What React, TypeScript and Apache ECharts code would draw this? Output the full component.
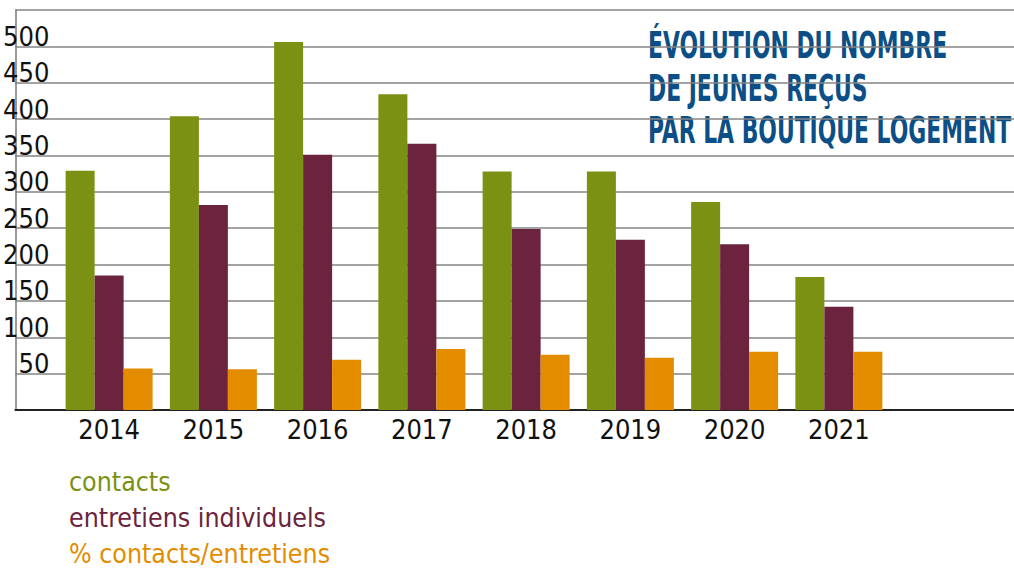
import React, { useEffect, useRef } from "react";
import * as echarts from "echarts";

const years = ["2014", "2015", "2016", "2017", "2018", "2019", "2020", "2021"];
const contacts = [329, 404, 506, 434, 328, 328, 286, 183];
const entretiens = [185, 282, 351, 366, 249, 234, 228, 142];
const pctContacts = [57, 56, 69, 84, 76, 72, 80, 80];
const seriesNames = ["contacts", "entretiens individuels", "% contacts/entretiens"];
const seriesColors = ["#7A9113", "#6B233E", "#E38C00"];
const titleLines = ["ÉVOLUTION DU NOMBRE", "DE JEUNES REÇUS", "PAR LA BOUTIQUE LOGEMENT"];
const yMax = 550;
const yStep = 50;

const FONT = "'DejaVu Sans Condensed', 'DejaVu Sans', sans-serif";

export default function App() {
  const ref = useRef<HTMLDivElement>(null);
  useEffect(() => {
    document.body.style.margin = "0";
    const chart = echarts.init(ref.current!, null, { renderer: "svg" });
    const values = [contacts, entretiens, pctContacts];
    const option: any = {
      animation: false,
      backgroundColor: "#ffffff",
      grid: [
        { left: 10, right: 0, top: 10, bottom: 159 },
        { left: 57, width: 834, top: 10, bottom: 159 },
      ],
      xAxis: [
        {
          gridIndex: 0,
          type: "value",
          min: 0,
          max: 1,
          axisLine: { show: true, lineStyle: { color: "#222", width: 2 } },
          axisTick: { show: false },
          axisLabel: { show: false },
          splitLine: { show: false },
        },
        {
          gridIndex: 1,
          type: "category",
          data: years,
          axisLine: { show: false },
          axisTick: { show: false },
          axisLabel: { fontSize: 27, fontFamily: FONT, color: "#111", margin: 6 },
        },
      ],
      yAxis: [
        {
          gridIndex: 0,
          type: "value",
          min: 0,
          max: yMax,
          interval: yStep,
          axisLine: { show: true, lineStyle: { color: "#777", width: 1.5 } },
          axisTick: { show: false },
          splitLine: { lineStyle: { color: "#858585", width: 1.5 } },
          axisLabel: {
            inside: true,
            align: "right",
            margin: 34,
            verticalAlign: "bottom",
            lineHeight: 20,
            showMinLabel: false,
            showMaxLabel: false,
            fontSize: 27,
            fontFamily: FONT,
            color: "#111",
          },
        },
        { gridIndex: 1, type: "value", min: 0, max: yMax, interval: yStep, show: false },
      ],
      legend: {
        orient: "vertical",
        left: 64,
        top: 466,
        padding: 0,
        itemWidth: 0,
        itemHeight: 0,
        itemGap: 6,
        icon: "none",
        selectedMode: false,
        textStyle: { fontSize: 26.5, fontFamily: FONT, lineHeight: 30 },
        data: seriesNames.map((n, i) => ({ name: n, textStyle: { color: seriesColors[i] } })),
      },
      graphic: titleLines.map((t, i) => ({
        type: "text",
        x: 648,
        y: 45 + i * 42.5,
        scaleX: 0.64,
        style: {
          text: t,
          fill: "#0B4F86",
          font: `bold 38px ${FONT}`,
          align: "left",
          verticalAlign: "middle",
        },
      })),
      series: seriesNames.map((n, i) => ({
        name: n,
        type: "bar",
        xAxisIndex: 1,
        yAxisIndex: 1,
        barWidth: 29,
        barGap: "0%",
        itemStyle: { color: seriesColors[i] },
        data: values[i],
      })),
    };
    chart.setOption(option);
    return () => chart.dispose();
  }, []);
  return <div ref={ref} style={{ position: "fixed", left: 0, top: 0, width: 1014, height: 569 }} />;
}
